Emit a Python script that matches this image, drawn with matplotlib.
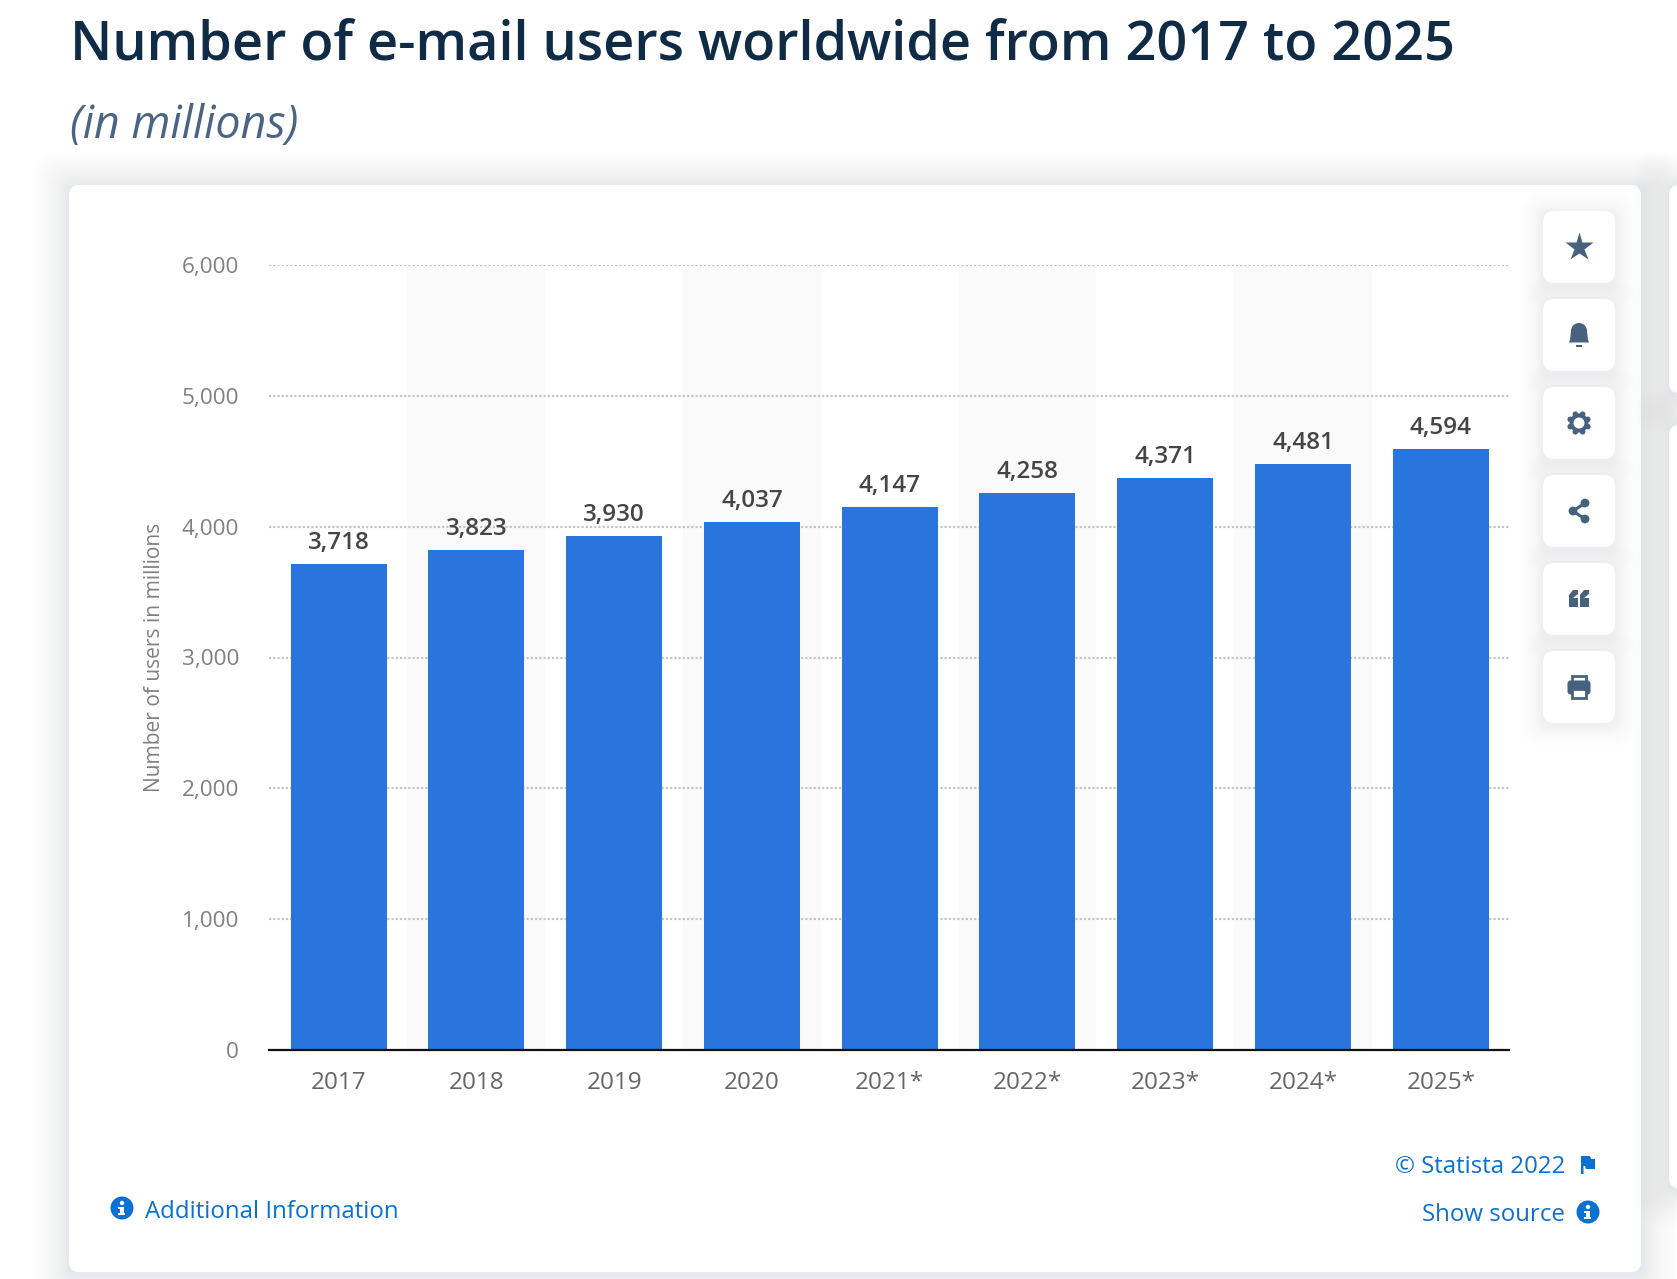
"""Number of e-mail users worldwide, redrawn with the page chrome around the chart."""

import math

import matplotlib

matplotlib.use("Agg")
import matplotlib.pyplot as plt
from matplotlib.patches import Circle, FancyBboxPatch, Polygon, Rectangle

W, H = 1677, 1279

years = ["2017", "2018", "2019", "2020", "2021*", "2022*", "2023*", "2024*", "2025*"]
users = [3718, 3823, 3930, 4037, 4147, 4258, 4371, 4481, 4594]
y_ticks = [0, 1000, 2000, 3000, 4000, 5000, 6000]
title = "Number of e-mail users worldwide from 2017 to 2025"
subtitle = "(in millions)"
y_label = "Number of users in millions"

BLUE = "#2a75dd"
LINK = "#0a70d2"
ICON = "#46627f"

plt.rcParams["font.family"] = ["Open Sans", "DejaVu Sans"]


def rounded(ax, x0, y0, x1, y1, rad, **kw):
    ax.add_patch(FancyBboxPatch(
        (x0 + rad, y0 + rad), x1 - x0 - 2 * rad, y1 - y0 - 2 * rad,
        boxstyle=f"round,pad={rad},rounding_size={rad}", ec="none", **kw,
    ))


def card(ax, x0, y0, x1, y1, rad=10, blur=44, strength=0.32, layers=22):
    """White rounded card, in page pixels, with a soft shadow under it."""
    norm = sum((k + 1) ** 2 for k in range(layers))
    for k in range(layers):
        grow = blur * (1 - k / layers)
        alpha = strength * (k + 1) ** 2 / norm
        rounded(ax, x0 - grow, y0 - grow + 2, x1 + grow, y1 + grow + 2, rad + grow / 2,
                fc="#c6ccd8", alpha=alpha)
    rounded(ax, x0, y0, x1, y1, rad, fc="white")


def info_icon(ax, cx, cy):
    ax.add_patch(Circle((cx, cy), 11.5, fc=LINK, ec="none"))
    ax.add_patch(Rectangle((cx - 1.8, cy - 1.5), 3.8, 7, fc="white", ec="none"))
    ax.add_patch(Rectangle((cx - 3.5, cy + 4.5), 7, 2, fc="white", ec="none"))
    ax.add_patch(Rectangle((cx - 3.5, cy - 1.5), 2, 2, fc="white", ec="none"))
    ax.add_patch(Circle((cx, cy - 5), 2.2, fc="white", ec="none"))


def draw_toolbar(ax):
    cx = 1579
    centers = [247, 335, 423, 511, 599, 687]
    for cy in centers:
        card(ax, 1543, cy - 36, 1615, cy + 36, rad=11, blur=26, strength=0.18, layers=13)

    # star
    ax.plot([cx], [centers[0]], marker="*", ms=21, color=ICON, mec="none", zorder=3)

    # bell
    cy = centers[1]
    ax.add_patch(Circle((cx, cy - 4), 8, fc=ICON, ec="none"))
    ax.add_patch(Polygon(
        [(cx - 8, cy - 4), (cx + 8, cy - 4), (cx + 9, cy + 5), (cx + 10, cy + 7.5),
         (cx - 10, cy + 7.5), (cx - 9, cy + 5)],
        fc=ICON, ec="none",
    ))
    ax.add_patch(Rectangle((cx - 3, cy + 9.5), 6, 2.5, fc=ICON, ec="none"))

    # gear
    cy = centers[2]
    ax.add_patch(Circle((cx, cy), 9.5, fc=ICON, ec="none"))
    for k in range(8):
        ang = math.pi / 8 + k * math.pi / 4
        ax.add_patch(Circle((cx + 9.5 * math.cos(ang), cy + 9.5 * math.sin(ang)), 2.8,
                            fc=ICON, ec="none"))
    ax.add_patch(Circle((cx, cy), 5.5, fc="white", ec="none"))

    # share
    cy = centers[3]
    nodes = [(cx + 6, cy - 8), (cx - 6, cy), (cx + 6, cy + 8)]
    ax.plot(*zip(*nodes), color=ICON, lw=2.2, zorder=3)
    for node in nodes:
        ax.add_patch(Circle(node, 4.4, fc=ICON, ec="none"))

    # quotes
    cy = centers[4]
    for dx in (-10, 1):
        ax.add_patch(Polygon(
            [(cx + dx, cy + 8), (cx + dx, cy - 4), (cx + dx + 4, cy - 9),
             (cx + dx + 9, cy - 9), (cx + dx + 9, cy - 5), (cx + dx + 4, cy - 1),
             (cx + dx + 9, cy - 1), (cx + dx + 9, cy + 8)],
            fc=ICON, ec="none",
        ))

    # printer
    cy = centers[5]
    ax.add_patch(Rectangle((cx - 7, cy - 11), 14, 8, fc="none", ec=ICON, lw=2))
    ax.add_patch(FancyBboxPatch((cx - 9, cy - 4), 18, 9, boxstyle="round,pad=2.5,rounding_size=3",
                                fc=ICON, ec="none"))
    ax.add_patch(Rectangle((cx - 7, cy + 2), 14, 9, fc="white", ec=ICON, lw=2))


fig = plt.figure(figsize=(W / 100, H / 100), dpi=100, facecolor="white")

# page layer, in image pixels
page = fig.add_axes([0, 0, 1, 1], zorder=0)
page.set_xlim(0, W)
page.set_ylim(H, 0)
page.axis("off")
card(page, 69, 185, 1641, 1272)
card(page, 1669, 185, 1740, 393)
card(page, 1669, 425, 1740, 1188)
draw_toolbar(page)

page.text(70, 45, title, fontsize=38.85, color="#0f2b46", weight=600, va="center", ha="left")
page.text(70, 126, subtitle, fontsize=32.2, color="#4a6583", style="italic", va="center", ha="left")

page.text(145, 1212, "Additional Information", fontsize=17.3, color=LINK, va="center", ha="left")
info_icon(page, 122, 1208)
page.text(1565, 1167, "© Statista 2022", fontsize=17.3, color=LINK, va="center", ha="right")
page.text(1565, 1215, "Show source", fontsize=17.3, color=LINK, va="center", ha="right")
info_icon(page, 1588, 1212)
# flag
page.add_patch(Polygon(
    [(1581, 1156), (1590, 1156), (1591, 1159), (1595, 1159), (1595, 1169), (1586, 1169),
     (1585, 1166), (1583.5, 1166), (1583.5, 1174), (1581, 1174)],
    fc=LINK, ec="none",
))

# chart layer
ax = fig.add_axes([269 / W, (H - 1050) / H, 1240 / W, 785 / H], zorder=1)
ax.patch.set_alpha(0)
x = range(len(years))
for i in x:
    if i % 2 == 1:
        ax.axvspan(i - 0.5, i + 0.5, color="#fafafa", lw=0, zorder=0)
bars = ax.bar(x, users, width=0.697, color=BLUE, zorder=2)
ax.bar_label(bars, labels=[f"{v:,}" for v in users], padding=6.5, fontsize=17.5,
             color="#454545", weight=600, zorder=3)

ax.set_xlim(-0.505, len(years) - 0.505)
ax.set_ylim(0, 6000)
ax.set_xticks(list(x), years)
ax.set_yticks(y_ticks, [f"{v:,}" for v in y_ticks])
ax.tick_params(axis="x", length=0, pad=15, labelsize=17.5, labelcolor="#666666")
ax.tick_params(axis="y", length=0, pad=21.5, labelsize=16.2, labelcolor="#808080")
ax.grid(axis="y", linestyle=(0, (1, 0.9)), color="#c4c4c4", lw=1.6)
ax.set_axisbelow(True)
for name in ("top", "right", "left"):
    ax.spines[name].set_visible(False)
ax.spines["bottom"].set_color("#111111")
ax.spines["bottom"].set_linewidth(1.6)
ax.spines["bottom"].set_zorder(4)
ax.set_ylabel(y_label, fontsize=15.1, color="#808080")
ax.yaxis.set_label_coords((165 - 269) / 1240, 0.5)

fig.savefig("out.png", dpi=100)
